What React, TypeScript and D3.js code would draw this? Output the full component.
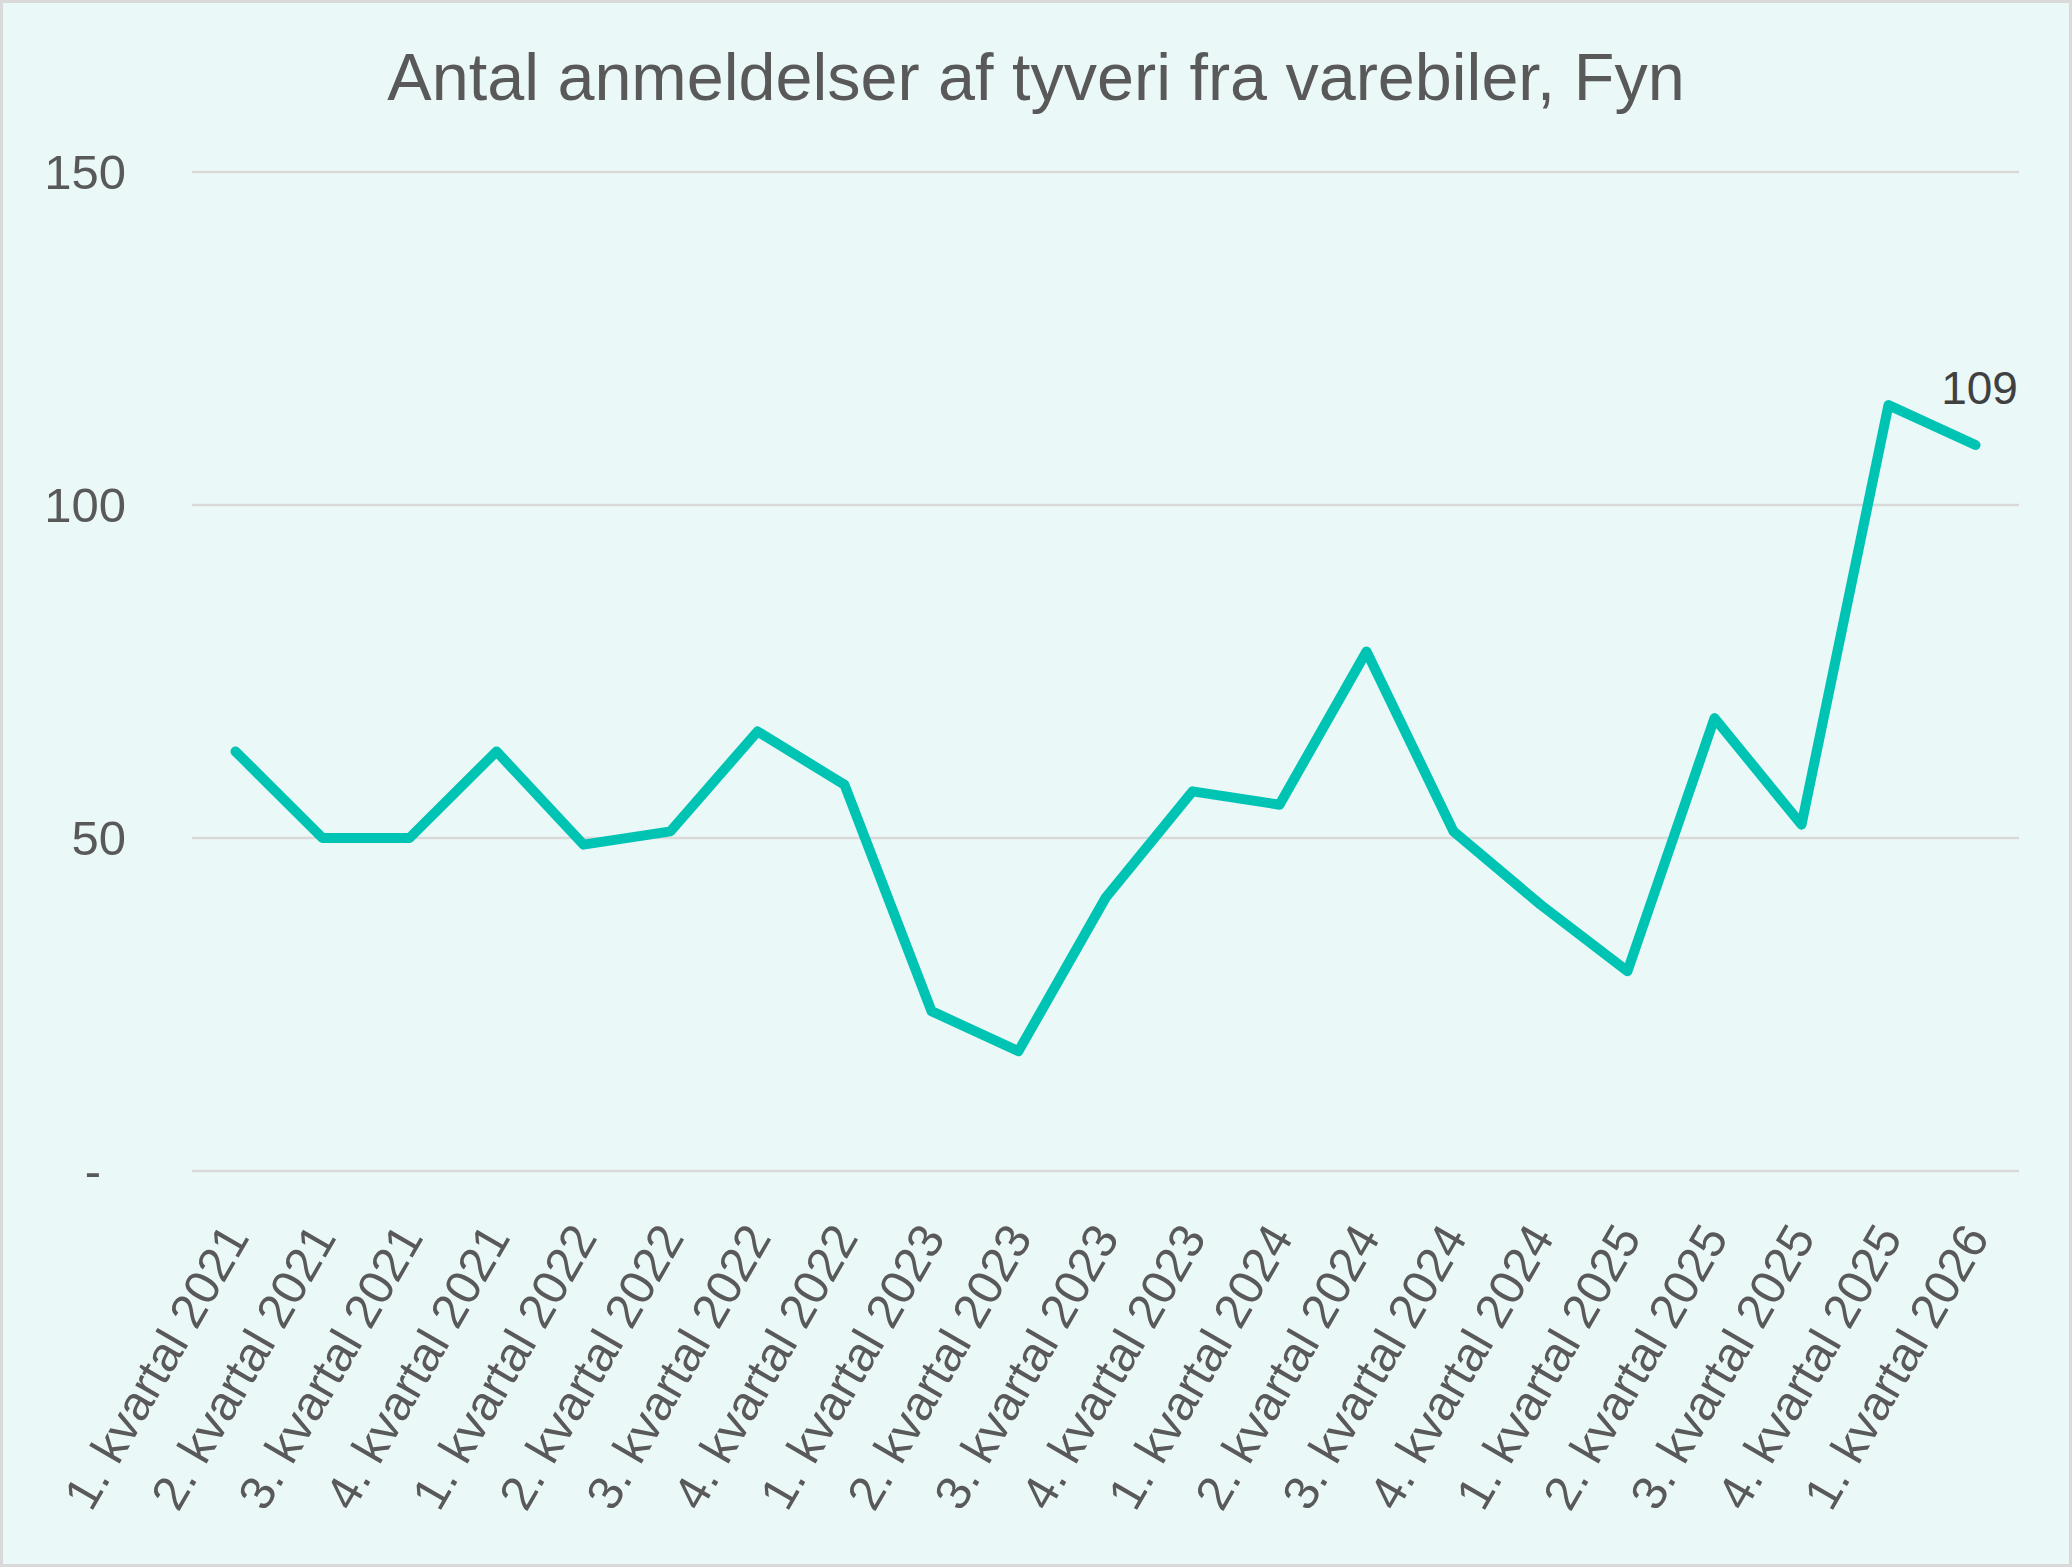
import * as d3 from "d3";
import React, { useEffect } from "react";

// kvartaler og antal anmeldelser
const quarters = [
	"1. kvartal 2021",
	"2. kvartal 2021",
	"3. kvartal 2021",
	"4. kvartal 2021",
	"1. kvartal 2022",
	"2. kvartal 2022",
	"3. kvartal 2022",
	"4. kvartal 2022",
	"1. kvartal 2023",
	"2. kvartal 2023",
	"3. kvartal 2023",
	"4. kvartal 2023",
	"1. kvartal 2024",
	"2. kvartal 2024",
	"3. kvartal 2024",
	"4. kvartal 2024",
	"1. kvartal 2025",
	"2. kvartal 2025",
	"3. kvartal 2025",
	"4. kvartal 2025",
	"1. kvartal 2026",
];
const reports = [63, 50, 50, 63, 49, 51, 66, 58, 24, 18, 41, 57, 55, 78, 51, 40, 30, 68, 52, 115, 109];
const yTicks = [0, 50, 100, 150];

const title = "Antal anmeldelser af tyveri fra varebiler, Fyn";

const W = 2072;
const H = 1567;
const margin = { top: 172, right: 53, bottom: 396, left: 192 };
const font = "'Liberation Sans', Arial, sans-serif";

const App = () => {
	useEffect(() => {
		document.body.style.margin = "0";
	}, []);

	const x = d3
		.scalePoint<string>()
		.domain(quarters)
		.range([margin.left, W - margin.right])
		.padding(0.5);

	const y = d3
		.scaleLinear()
		.domain([0, 150])
		.range([H - margin.bottom, margin.top]);

	const line = d3
		.line<number>()
		.x((_, i) => x(quarters[i]) ?? 0)
		.y((d) => y(d));

	const lastIdx = reports.length - 1;
	const lastX = x(quarters[lastIdx]) ?? 0;
	const lastY = y(reports[lastIdx]);

	return (
		<svg width={W} height={H} style={{ display: "block" }} fontFamily={font}>
			<rect x={1.5} y={1.5} width={W - 3} height={H - 3} fill="#EAF8F7" stroke="#D9D9D9" strokeWidth={3} />

			<text x={W / 2} y={100} textAnchor="middle" fontSize={66.5} fill="#595959">
				{title}
			</text>

			{yTicks.map((t) => (
				<g key={t}>
					<line
						x1={margin.left}
						x2={W - margin.right}
						y1={y(t)}
						y2={y(t)}
						stroke="#D9D9D9"
						strokeWidth={2.7}
					/>
					<text
						x={t === 0 ? 101 : 126}
						y={y(t)}
						textAnchor="end"
						dominantBaseline="central"
						fontSize={49}
						fill="#595959"
					>
						{t === 0 ? "-" : t}
					</text>
				</g>
			))}

			{quarters.map((q) => (
				<text
					key={q}
					transform={`translate(${x(q)},${y(0) + 58}) rotate(-60)`}
					textAnchor="end"
					dominantBaseline="central"
					fontSize={48.5}
					fill="#595959"
				>
					{q}
				</text>
			))}

			<path
				d={line(reports) ?? ""}
				fill="none"
				stroke="#00C4B3"
				strokeWidth={10}
				strokeLinejoin="round"
				strokeLinecap="round"
			/>

			<text x={lastX + 4} y={lastY - 41} textAnchor="middle" fontSize={46} fill="#404040">
				{reports[lastIdx]}
			</text>
		</svg>
	);
};

export default App;
